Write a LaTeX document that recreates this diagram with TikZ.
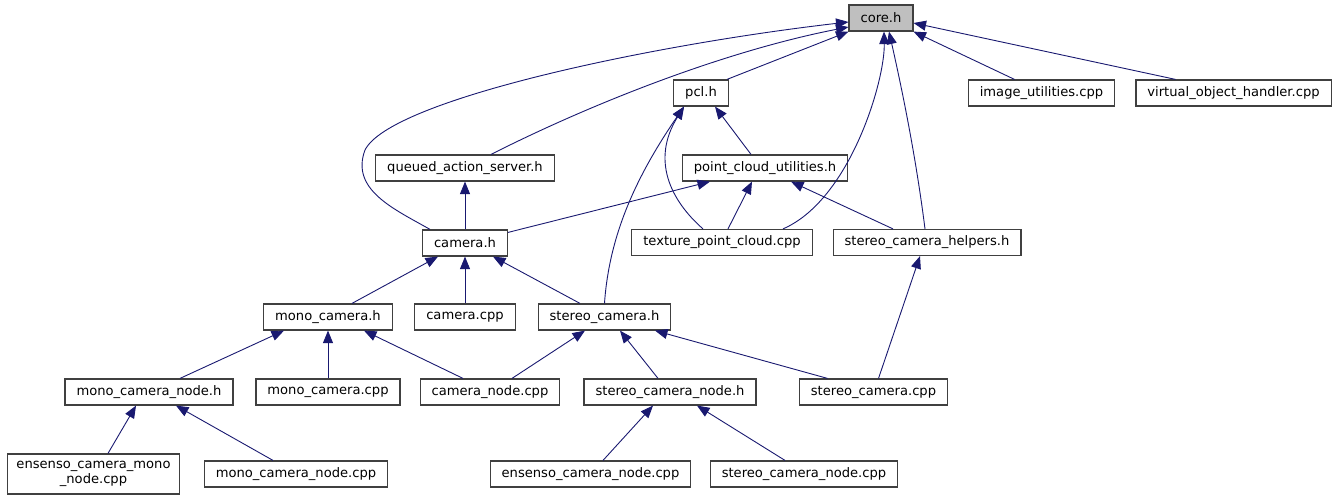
\documentclass[tikz,border=0pt]{standalone}
\usepackage{fontspec}
\setmainfont{DejaVu Sans}
\usetikzlibrary{arrows.meta}
\definecolor{edgeblue}{HTML}{191970}
\definecolor{boxborder}{HTML}{404040}
\definecolor{corefill}{HTML}{BFBFBF}
\begin{document}
\begin{tikzpicture}[x=1pt,y=-1pt,
  filebox/.style={draw=boxborder,line width=1.2pt,fill=white,inner xsep=11.5pt,inner ysep=0pt,
    minimum height=26pt,font=\fontsize{13.1}{15}\selectfont,align=center},
  corebox/.style={filebox,fill=corefill},
  dep/.style={draw=edgeblue,line width=0.9pt,-{Triangle[length=12.5pt,width=10pt]}},
]
\useasboundingbox (0,0) rectangle (1339,500);
% nodes
\node[corebox] (core) at (881,18) {core.h};
\node[filebox] (pcl) at (701,93) {pcl.h};
\node[filebox] (imgu) at (1041.5,93) {image\_utilities.cpp};
\node[filebox] (voh) at (1233.5,93) {virtual\_object\_handler.cpp};
\node[filebox] (qas) at (465,168) {queued\_action\_server.h};
\node[filebox] (pcu) at (765,168) {point\_cloud\_utilities.h};
\node[filebox] (cam) at (465,243) {camera.h};
\node[filebox] (tpc) at (722,242.5) {texture\_point\_cloud.cpp};
\node[filebox] (sch) at (927,242.5) {stereo\_camera\_helpers.h};
\node[filebox] (mch) at (328,317) {mono\_camera.h};
\node[filebox] (ccpp) at (465,317) {camera.cpp};
\node[filebox] (sch2) at (604.5,317) {stereo\_camera.h};
\node[filebox] (mcnh) at (149,392) {mono\_camera\_node.h};
\node[filebox] (mccpp) at (328,392) {mono\_camera.cpp};
\node[filebox] (cncpp) at (490,392) {camera\_node.cpp};
\node[filebox] (scnh) at (670,392) {stereo\_camera\_node.h};
\node[filebox] (sccpp) at (873.5,392) {stereo\_camera.cpp};
\node[filebox,minimum height=40pt,inner xsep=9pt] (ecmn) at (93.5,474) {ensenso\_camera\_mono\\\_node.cpp};
\node[filebox] (mcncpp) at (296,474) {mono\_camera\_node.cpp};
\node[filebox] (ecn) at (590.5,474) {ensenso\_camera\_node.cpp};
\node[filebox] (scncpp) at (804,474) {stereo\_camera\_node.cpp};

% edges into core.h
\draw[dep] ([xshift=-35pt]cam.north) .. controls +(-35,-20) and +(-15,40) .. (365,150)
   .. controls +(25,-50) and +(-200,23) .. ([yshift=-4pt]core.west);
\draw[dep] ([xshift=26pt]qas.north) .. controls +(109,-55) and +(-118,23) .. ([yshift=-9pt]core.west);
\draw[dep] ([xshift=26pt]pcl.north) -- (core.south west);
\draw[dep] ([xshift=61pt]tpc.north) .. controls +(67,-29) and +(1,49) .. ([xshift=3pt]core.south);
\draw[dep] ([xshift=-2pt]sch.north) .. controls +(-10,-79) and +(11,49) .. ([xshift=8pt]core.south);
\draw[dep] ([xshift=-27pt]imgu.north) -- (core.south east);
\draw[dep] ([xshift=-58pt]voh.north) -- ([yshift=-5pt]core.east);
% edges into pcl.h
\draw[dep] ([xshift=-14pt]pcu.north) -- ([xshift=14pt]pcl.south);
\draw[dep] ([xshift=-19pt]tpc.north) .. controls +(-33,-29) and +(-33,53) .. ([xshift=-17pt]pcl.south);
\draw[dep] (sch2.north) .. controls +(5,-74) and +(-43,63) .. ([xshift=-17pt]pcl.south);
% edges into queued_action_server.h and point_cloud_utilities.h
\draw[dep] (cam.north) -- (qas.south);
\draw[dep] ([yshift=-3pt]cam.north east) -- ([xshift=-55pt]pcu.south);
\draw[dep] ([xshift=6pt]tpc.north) -- ([xshift=-13pt]pcu.south);
\draw[dep] ([xshift=-34pt]sch.north) -- ([xshift=26pt]pcu.south);
% edges into camera.h
\draw[dep] ([xshift=24pt]mch.north) -- ([xshift=-27pt]cam.south);
\draw[dep] (ccpp.north) -- (cam.south);
\draw[dep] ([xshift=-24.5pt]sch2.north) -- ([xshift=28pt]cam.south);
% edges into mono_camera.h
\draw[dep] ([xshift=31pt]mcnh.north) -- ([xshift=-44pt]mch.south);
\draw[dep] (mccpp.north) -- (mch.south);
\draw[dep] ([xshift=-27pt]cncpp.north) -- ([xshift=36pt]mch.south);
% edges into stereo_camera.h
\draw[dep] ([xshift=22pt]cncpp.north) -- ([xshift=-19.5pt]sch2.south);
\draw[dep] ([xshift=-12pt]scnh.north) -- ([xshift=15.5pt]sch2.south);
\draw[dep] ([xshift=-46pt]sccpp.north) -- ([xshift=50.5pt]sch2.south);
% stereo_camera_helpers.h
\draw[dep] ([xshift=5pt]sccpp.north) -- ([xshift=-7pt]sch.south);
% mono_camera_node.h
\draw[dep] ([xshift=14.5pt]ecmn.north) -- ([xshift=-13pt]mcnh.south);
\draw[dep] ([xshift=-23pt]mcncpp.north) -- ([xshift=27pt]mcnh.south);
% stereo_camera_node.h
\draw[dep] ([xshift=12.5pt]ecn.north) -- ([xshift=-17pt]scnh.south);
\draw[dep] ([xshift=-19pt]scncpp.north) -- ([xshift=27pt]scnh.south);
\end{tikzpicture}
\end{document}
